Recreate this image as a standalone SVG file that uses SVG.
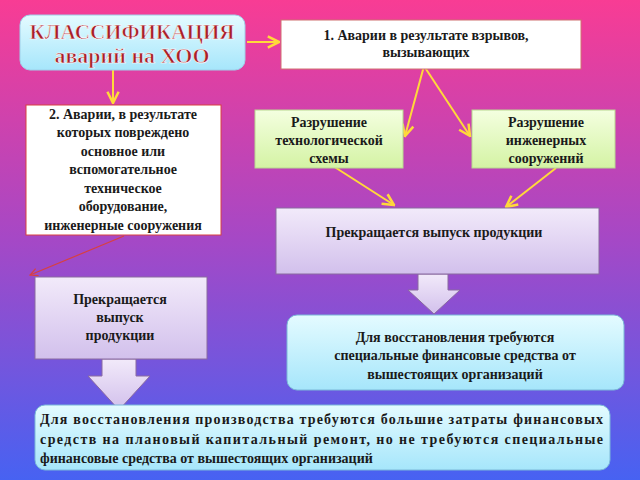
<svg xmlns="http://www.w3.org/2000/svg" width="640" height="480" viewBox="0 0 640 480">
<defs>
<linearGradient id="bg" x1="0" y1="0" x2="0" y2="1"><stop offset="0" stop-color="#f83c94"/><stop offset="0.5" stop-color="#a548c6"/><stop offset="1" stop-color="#4762f2"/></linearGradient>
<linearGradient id="cy" x1="0" y1="0" x2="0" y2="1"><stop offset="0" stop-color="#e4fbff"/><stop offset="1" stop-color="#a6e6fb"/></linearGradient>
<linearGradient id="gr" x1="0" y1="0" x2="0" y2="1"><stop offset="0" stop-color="#f4ffe0"/><stop offset="1" stop-color="#d4f3a4"/></linearGradient>
<linearGradient id="lv" x1="0" y1="0" x2="0" y2="1"><stop offset="0" stop-color="#f2eafa"/><stop offset="1" stop-color="#d2c0ec"/></linearGradient>
<marker id="ya" viewBox="0 0 10 10" refX="9" refY="5" markerWidth="7" markerHeight="7" orient="auto"><path d="M1,1 L9,5 L1,9" fill="none" stroke="#ffd93a" stroke-width="1.8"/></marker>
<marker id="ra" viewBox="0 0 10 10" refX="9" refY="5" markerWidth="8" markerHeight="8" orient="auto"><path d="M1,1 L9,5 L1,9" fill="none" stroke="#d84040" stroke-width="1.2"/></marker>
</defs>
<style>
text{font-family:'Liberation Serif','DejaVu Serif',serif;font-weight:bold}
.t{font-size:14px;fill:#1a1a1a;text-anchor:middle}
.l{text-anchor:start}
.h{font-size:22px;fill:#a81f28;stroke:#fff;stroke-width:0.6px;text-anchor:middle}
.sh{stroke:#8a6aa0;stroke-width:1}
.c{stroke:#ffd93a;stroke-width:2;fill:none;marker-end:url(#ya)}
</style>
<rect width="640" height="480" fill="url(#bg)"/>
<g id="connectors">
<line class="c" x1="247" y1="42" x2="279" y2="42"/>
<line class="c" x1="113" y1="70" x2="113" y2="103"/>
<line class="c" x1="424" y1="66" x2="405" y2="136"/>
<line class="c" x1="424" y1="66" x2="470" y2="136"/>
<line class="c" x1="333" y1="166" x2="394" y2="205"/>
<line class="c" x1="556" y1="168" x2="506" y2="207"/>
<line x1="124" y1="236" x2="30" y2="275" stroke="#d84040" stroke-width="1.2" marker-end="url(#ra)"/>
<path d="M418,274 H448 V290 H460 L434,314 L408,290 H418 Z" fill="url(#lv)" class="sh"/>
<path d="M102,359 H136 V376 H150 L119,410 L88,376 H102 Z" fill="url(#lv)" class="sh"/>
</g>
<g id="title">
<rect x="20" y="15" width="225" height="55" rx="10" fill="url(#cy)" stroke="#9fd0e8"/>
<text class="h" x="132" y="39" textLength="205" lengthAdjust="spacingAndGlyphs">КЛАССИФИКАЦИЯ</text>
<text class="h" x="132" y="63">аварий на ХОО</text>
</g>
<g id="box1">
<rect x="281" y="20" width="300" height="49" fill="#fff" stroke="#d07070"/>
<text class="t" x="426" y="40">1. Аварии в результате взрывов,</text>
<text class="t" x="426" y="57">вызывающих</text>
</g>
<g id="box2">
<rect x="26" y="105" width="195" height="130" fill="#fff" stroke="#d84040"/>
<text class="t" x="123" y="119">2. Аварии, в результате</text>
<text class="t" x="123" y="137">которых повреждено</text>
<text class="t" x="123" y="156">основное или</text>
<text class="t" x="123" y="174">вспомогательное</text>
<text class="t" x="123" y="193">техническое</text>
<text class="t" x="123" y="211">оборудование,</text>
<text class="t" x="123" y="230">инженерные сооружения</text>
</g>
<g id="green1">
<rect x="255" y="110" width="148" height="58" fill="url(#gr)" stroke="#b8d890"/>
<text class="t" x="329" y="127">Разрушение</text>
<text class="t" x="329" y="145">технологической</text>
<text class="t" x="329" y="163">схемы</text>
</g>
<g id="green2">
<rect x="472" y="110" width="143" height="58" fill="url(#gr)" stroke="#b8d890"/>
<text class="t" x="546" y="127">Разрушение</text>
<text class="t" x="546" y="145">инженерных</text>
<text class="t" x="546" y="163">сооружений</text>
</g>
<g id="stop1">
<rect x="276" y="208" width="323" height="66" fill="url(#lv)" stroke="#8a6aa0"/>
<text class="t" x="434" y="237">Прекращается выпуск продукции</text>
</g>
<g id="fin1">
<rect x="287" y="315" width="337" height="75" rx="10" fill="url(#cy)" stroke="#7ab8d8"/>
<text class="t" x="455" y="342">Для восстановления требуются</text>
<text class="t" x="455" y="360">специальные финансовые средства от</text>
<text class="t" x="455" y="379">вышестоящих организаций</text>
</g>
<g id="stop2">
<rect x="35" y="277" width="172" height="82" fill="url(#lv)" stroke="#8a6aa0"/>
<text class="t" x="120" y="304">Прекращается</text>
<text class="t" x="120" y="322">выпуск</text>
<text class="t" x="120" y="340">продукции</text>
</g>
<g id="fin2">
<rect x="35" y="405" width="575" height="65" rx="10" fill="url(#cy)" stroke="#7ab8d8"/>
<text class="t l" x="40" y="424" textLength="563" lengthAdjust="spacing">Для восстановления производства требуются большие затраты финансовых</text>
<text class="t l" x="40" y="444" textLength="563" lengthAdjust="spacing">средств на плановый капитальный ремонт, но не требуются специальные</text>
<text class="t l" x="40" y="463">финансовые средства от вышестоящих организаций</text>
</g>
</svg>
